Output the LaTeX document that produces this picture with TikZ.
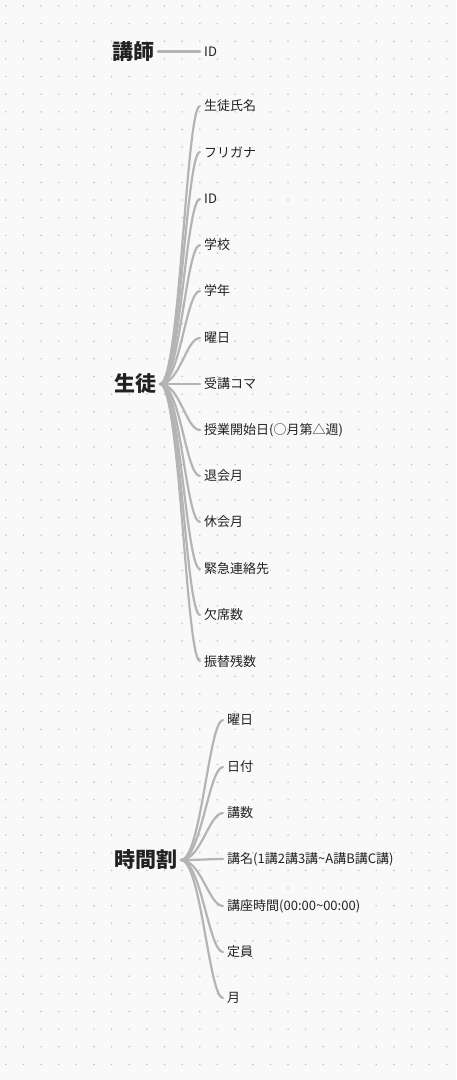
\documentclass[tikz,border=0pt]{standalone}
\usepackage{fontspec}
\setmainfont{Noto Sans CJK JP}
\definecolor{bgc}{RGB}{249,249,249}
\definecolor{dotc}{RGB}{192,192,192}
\definecolor{linec}{RGB}{180,180,180}
\definecolor{txtc}{RGB}{34,34,34}
\begin{document}
\begin{tikzpicture}[x=1pt,y=-1pt,
  parent/.style={font=\fontsize{21}{21}\selectfont\bfseries, text=txtc, inner xsep=3pt, inner ysep=0pt, anchor=east},
  leaf/.style={font=\fontsize{13}{13}\selectfont, text=txtc, inner xsep=4pt, inner ysep=0pt, anchor=west},
  conn/.style={draw=linec, line width=2.2pt, line cap=round}]
\useasboundingbox[fill=bgc] (0,0) rectangle (456,1080);
\foreach \i in {0,...,25}{
  \foreach \j in {0,...,60}{
    \fill[dotc] ({5.8+17.64*\i},{6+17.64*\j}) circle (0.85);
  }
}
% 講師
\node[parent] (koushi) at (158,51.5) {講師};
\node[leaf] (k1) at (200,51.5) {ID};
\draw[conn] (koushi.east) -- (k1.west);
% 生徒
\node[parent] (seito) at (160,384) {生徒};
\foreach \n/\y/\t in {1/106/生徒氏名, 2/152/フリガナ, 3/199/ID, 4/245/学校, 5/291/学年, 6/338/曜日, 7/384/受講コマ, 8/430/授業開始日(○月第△週), 9/476/退会月, 10/522/休会月, 11/569/緊急連絡先, 12/615/欠席数, 13/661/振替残数}{
  \node[leaf] (s\n) at (200,\y) {\t};
  \draw[conn] (seito.east) .. controls +(20,0) and +(-14,0) .. (s\n.west);
}
% 時間割
\node[parent] (jikan) at (181,860) {時間割};
\foreach \n/\y/\t in {1/720/曜日, 2/767/日付, 3/813/講数, 4/859/講名(1講2講3講\textasciitilde A講B講C講), 5/906/講座時間(00:00\textasciitilde 00:00), 6/952/定員, 7/998/月}{
  \node[leaf] (t\n) at (223,\y) {\t};
  \draw[conn] (jikan.east) .. controls +(20,0) and +(-14,0) .. (t\n.west);
}
\end{tikzpicture}
\end{document}
